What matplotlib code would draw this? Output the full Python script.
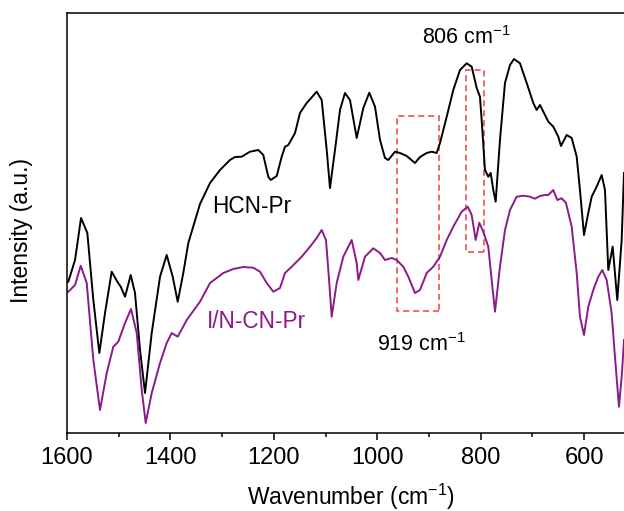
import numpy as np
import matplotlib.pyplot as plt

plt.rcParams["font.family"] = ["Liberation Sans", "DejaVu Sans"]

# HCN-Pr spectrum (wavenumber, intensity a.u.)
hcn_wn = [1600.0, 1597.5, 1584.5, 1572.9, 1560.7, 1549.1, 1537.5, 1526.5, 1513.6, 1502.7,
          1496.1, 1487.8, 1476.8, 1468.5, 1458.8, 1449.1, 1436.2, 1420.1, 1407.2, 1395.6,
          1385.9, 1375.1, 1365.4, 1342.8, 1323.4, 1304.1, 1284.8, 1275.1, 1262.1, 1246.1,
          1230.0, 1220.4, 1210.7, 1206.0, 1194.4, 1184.8, 1178.4, 1172.0, 1159.0, 1149.4,
          1136.4, 1117.1, 1107.4, 1097.7, 1091.4, 1081.7, 1072.0, 1062.4, 1052.7, 1039.7,
          1026.9, 1015.3, 1004.3, 994.6, 985.0, 978.6, 965.6, 956.0, 943.0, 927.0,
          917.3, 904.3, 894.7, 885.0, 878.6, 865.6, 852.9, 839.9, 827.0, 817.3,
          807.6, 801.3, 798.0, 791.6, 785.2, 780.6, 775.5, 770.9, 762.6, 752.9,
          743.2, 735.5, 723.9, 710.9, 698.2, 691.6, 685.2, 675.5, 669.1, 659.5,
          649.8, 644.6, 633.6, 623.9, 614.2, 607.9, 600.1, 591.8, 585.2, 575.6,
          565.9, 559.5, 553.1, 544.6, 535.7, 527.2, 522.7]
hcn_int = [151, 151.3, 173, 215, 200, 133, 80, 120, 161.3, 151.3,
           146.3, 136.3, 158, 140, 83, 40, 100, 156.3, 178, 156.3,
           131.3, 160, 190, 229, 250, 263, 273, 276, 276.3, 281.3,
           283, 278, 256.3, 253, 257, 276.3, 286.3, 288, 300, 320,
           330, 341.3, 333, 283, 245, 283, 323, 340, 333, 295,
           325, 340.3, 326.3, 293, 275, 273, 281.3, 280, 277, 270,
           276, 280, 281.3, 280, 290, 316.3, 343, 363, 369.7, 366.3,
           345, 336.3, 313, 263, 256.3, 260, 243, 231.3, 293, 350,
           368, 374, 369.7, 350, 330, 323, 328, 318, 311.3, 306.3,
           296.3, 287, 298, 295, 276.3, 243, 198, 220, 236.3, 246.3,
           258, 243, 163, 186.3, 133, 193, 260]

# I/N-CN-Pr spectrum
incn_wn = [1600.0, 1597.5, 1584.5, 1573.5, 1561.9, 1549.1, 1536.2, 1523.2, 1510.5, 1500.8,
           1487.8, 1476.2, 1465.2, 1455.5, 1447.8, 1436.2, 1420.1, 1407.2, 1397.5, 1385.9,
           1368.5, 1342.8, 1323.4, 1297.7, 1278.4, 1259.0, 1239.7, 1226.7, 1213.8, 1201.0,
           1188.1, 1178.4, 1165.4, 1146.1, 1130.0, 1117.1, 1107.4, 1099.1, 1092.7, 1088.1,
           1078.4, 1065.6, 1049.4, 1039.7, 1036.6, 1023.7, 1007.6, 994.6, 985.0, 972.0,
           962.4, 949.6, 939.9, 927.0, 917.3, 904.3, 891.6, 878.6, 865.6, 852.9,
           836.7, 825.0, 817.3, 809.6, 802.6, 794.9, 785.2, 778.6, 772.2, 762.6,
           752.9, 743.2, 730.3, 717.5, 704.6, 694.9, 685.2, 675.5, 669.1, 659.5,
           651.7, 643.3, 634.9, 623.9, 614.2, 607.9, 600.1, 591.8, 582.1, 572.4,
           564.7, 556.2, 546.6, 540.2, 532.4, 526.6, 522.7]
incn_int = [141, 141.3, 148, 167.3, 150, 73, 23, 60, 86.3, 91.3,
            110, 124, 100, 43, 10, 40, 70, 90, 100, 96.3,
            113, 131.3, 150, 160, 164, 166, 165.3, 161.3, 150, 141.3,
            145, 160, 166.3, 176.3, 186.3, 195, 203, 193, 150, 116.3,
            150, 176.3, 193, 170, 153, 176.3, 184.7, 180, 173, 175,
            173, 166.3, 156.3, 140, 143, 160, 166.3, 176.3, 193, 206.3,
            221.3, 226.3, 218, 193, 210.3, 201.3, 186.3, 153, 121.3, 166.3,
            203, 223, 236.3, 237.3, 236.3, 234.3, 237, 238, 238, 243,
            233, 234.7, 230, 206.3, 160, 116.3, 98, 126.3, 143, 156.3,
            163, 153, 120, 76.3, 26.3, 60, 93]

purple = "#8B1A8B"
red = "#F04040"

fig = plt.figure(figsize=(6.24, 5.11), dpi=100)
ax = fig.add_axes([0.1074, 0.1526, 0.8926, 0.822])

ax.plot(hcn_wn, hcn_int, color="black", lw=1.4)
ax.plot(incn_wn, incn_int, color=purple, lw=1.4)

# dashed boxes around the bands of interest
ax.add_patch(plt.Rectangle((880, 122), 962.4 - 880, 317 - 122, fill=False,
                           ls=(0, (4, 2.5)), lw=1.1, ec=red))
ax.add_patch(plt.Rectangle((793.5, 181), 828.3 - 793.5, 363 - 181, fill=False,
                           ls=(0, (4, 2.5)), lw=1.1, ec=red))

ax.text(1242, 226, "HCN-Pr", fontsize=16.3, ha="center", va="center")
ax.text(1233, 112, "I/N-CN-Pr", fontsize=16.3, ha="center", va="center", color=purple)
ax.text(828, 395, "806 cm$^{\\mathregular{-1}}$", fontsize=15.5, ha="center", va="center")
ax.text(915, 88, "919 cm$^{\\mathregular{-1}}$", fontsize=15.5, ha="center", va="center")

ax.set_xlim(1600, 522.7)
ax.set_ylim(0, 420)
ax.set_xticks([1600, 1400, 1200, 1000, 800, 600])
ax.set_xticks(np.arange(1500, 522, -200), minor=True)
ax.set_yticks([])
ax.tick_params(axis="x", which="major", labelsize=17, length=5, width=1.1, pad=5)
ax.tick_params(axis="x", which="minor", length=3, width=1.1)
for s in ["left", "bottom", "top"]:
    ax.spines[s].set_linewidth(1.1)
ax.spines["right"].set_visible(False)

ax.set_xlabel("Wavenumber (cm$^{\\mathregular{-1}}$)", fontsize=16.5)
ax.set_ylabel("Intensity (a.u.)", fontsize=16.5)
ax.xaxis.set_label_coords(0.509, -0.115)
ax.yaxis.set_label_coords(-0.061, 0.483)

fig.savefig("out.png", dpi=100)
